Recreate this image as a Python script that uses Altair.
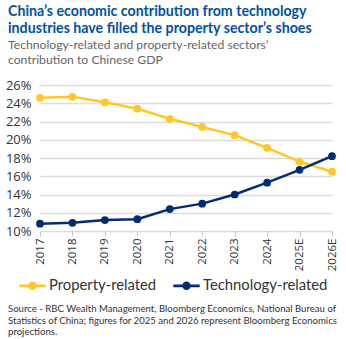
import altair as alt
import pandas as pd

years = ["2017", "2018", "2019", "2020", "2021", "2022", "2023", "2024", "2025E", "2026E"]
property_vals = [24.6, 24.7, 24.1, 23.4, 22.3, 21.4, 20.5, 19.1, 17.6, 16.5]
tech_vals = [10.8, 10.9, 11.2, 11.3, 12.4, 13.0, 14.0, 15.3, 16.7, 18.2]
series = ["Property-related", "Technology-related"]
colors = ["#FFC72C", "#002D72"]
y_ticks = [10, 12, 14, 16, 18, 20, 22, 24, 26]

title_lines = ["China\u2019s economic contribution from technology",
               "industries have filled the property sector\u2019s shoes"]
subtitle_lines = ["Technology-related and property-related sectors\u2019",
                  "contribution to Chinese GDP"]
source_lines = ["Source - RBC Wealth Management, Bloomberg Economics, National Bureau of",
                "Statistics of China; figures for 2025 and 2026 represent Bloomberg Economics",
                "projections."]

rows = []
for y, v in zip(years, property_vals):
    rows.append({"year": y, "value": v, "series": series[0]})
for y, v in zip(years, tech_vals):
    rows.append({"year": y, "value": v, "series": series[1]})
df = pd.DataFrame(rows)

FONT = "Lato"
AXFONT = "Open Sans"

symbol_path = ("M-1,-0.1 H1 V0.1 H-1 Z "
               "M-0.32,0 A0.32,0.32 0 1,1 0.32,0 A0.32,0.32 0 1,1 -0.32,0 Z")

base = alt.Chart(df).encode(
    x=alt.X("year:N", sort=years, title=None,
            scale=alt.Scale(type="point", padding=0),
            axis=alt.Axis(labelAngle=270, labelFontSize=11.5, labelColor="#333333",
                          labelFont=AXFONT, domain=False, ticks=True, tickSize=5,
                          tickColor="#c8c8c8", tickWidth=1, labelPadding=2, grid=False)),
    y=alt.Y("value:Q", title=None,
            scale=alt.Scale(domain=[10, 26], nice=False, zero=False),
            axis=alt.Axis(values=y_ticks, labelExpr="datum.value + '%'",
                          labelFontSize=13, labelColor="#333333", labelFont=AXFONT,
                          domain=False, ticks=False, labelPadding=9,
                          grid=True, gridColor="#dcdcdc", gridWidth=1.5)),
    color=alt.Color("series:N", scale=alt.Scale(domain=series, range=colors),
                    legend=alt.Legend(title=None, orient="none", direction="horizontal",
                                      legendX=-21, legendY=187,
                                      symbolType=symbol_path, symbolSize=700,
                                      symbolOpacity=1, symbolStrokeWidth=0,
                                      labelFontSize=14.8, labelFont=FONT,
                                      labelColor="#333333", labelOffset=3,
                                      columnPadding=16)),
)

lines = base.mark_line(strokeWidth=2.5)
points = base.mark_circle(size=60, opacity=1)

one = alt.Data(values=[{}])

title_txt = alt.Chart(one).mark_text(
    align="left", baseline="alphabetic", font=FONT, fontSize=14.2, fontWeight="bold",
    color="#0051A5", lineHeight=17
).encode(x=alt.value(-32), y=alt.value(-69), text=alt.value(title_lines))

subtitle_txt = alt.Chart(one).mark_text(
    align="left", baseline="alphabetic", font=FONT, fontSize=12.2,
    color="#666666", lineHeight=15
).encode(x=alt.value(-32), y=alt.value(-36), text=alt.value(subtitle_lines))

source_txt = alt.Chart(one).mark_text(
    align="left", baseline="alphabetic", font=FONT, fontSize=9.6,
    color="#333333", lineHeight=11.5
).encode(x=alt.value(-32), y=alt.value(227), text=alt.value(source_lines))

chart = alt.layer(lines, points, title_txt, subtitle_txt, source_txt).properties(
    width=292, height=146,
    autosize=alt.AutoSizeParams(type="none"),
    padding={"left": 40, "top": 85, "right": 14, "bottom": 108},
    background="white",
).configure_view(stroke=None)

chart.save("out.html", embed_options={"renderer": "svg", "actions": False})
